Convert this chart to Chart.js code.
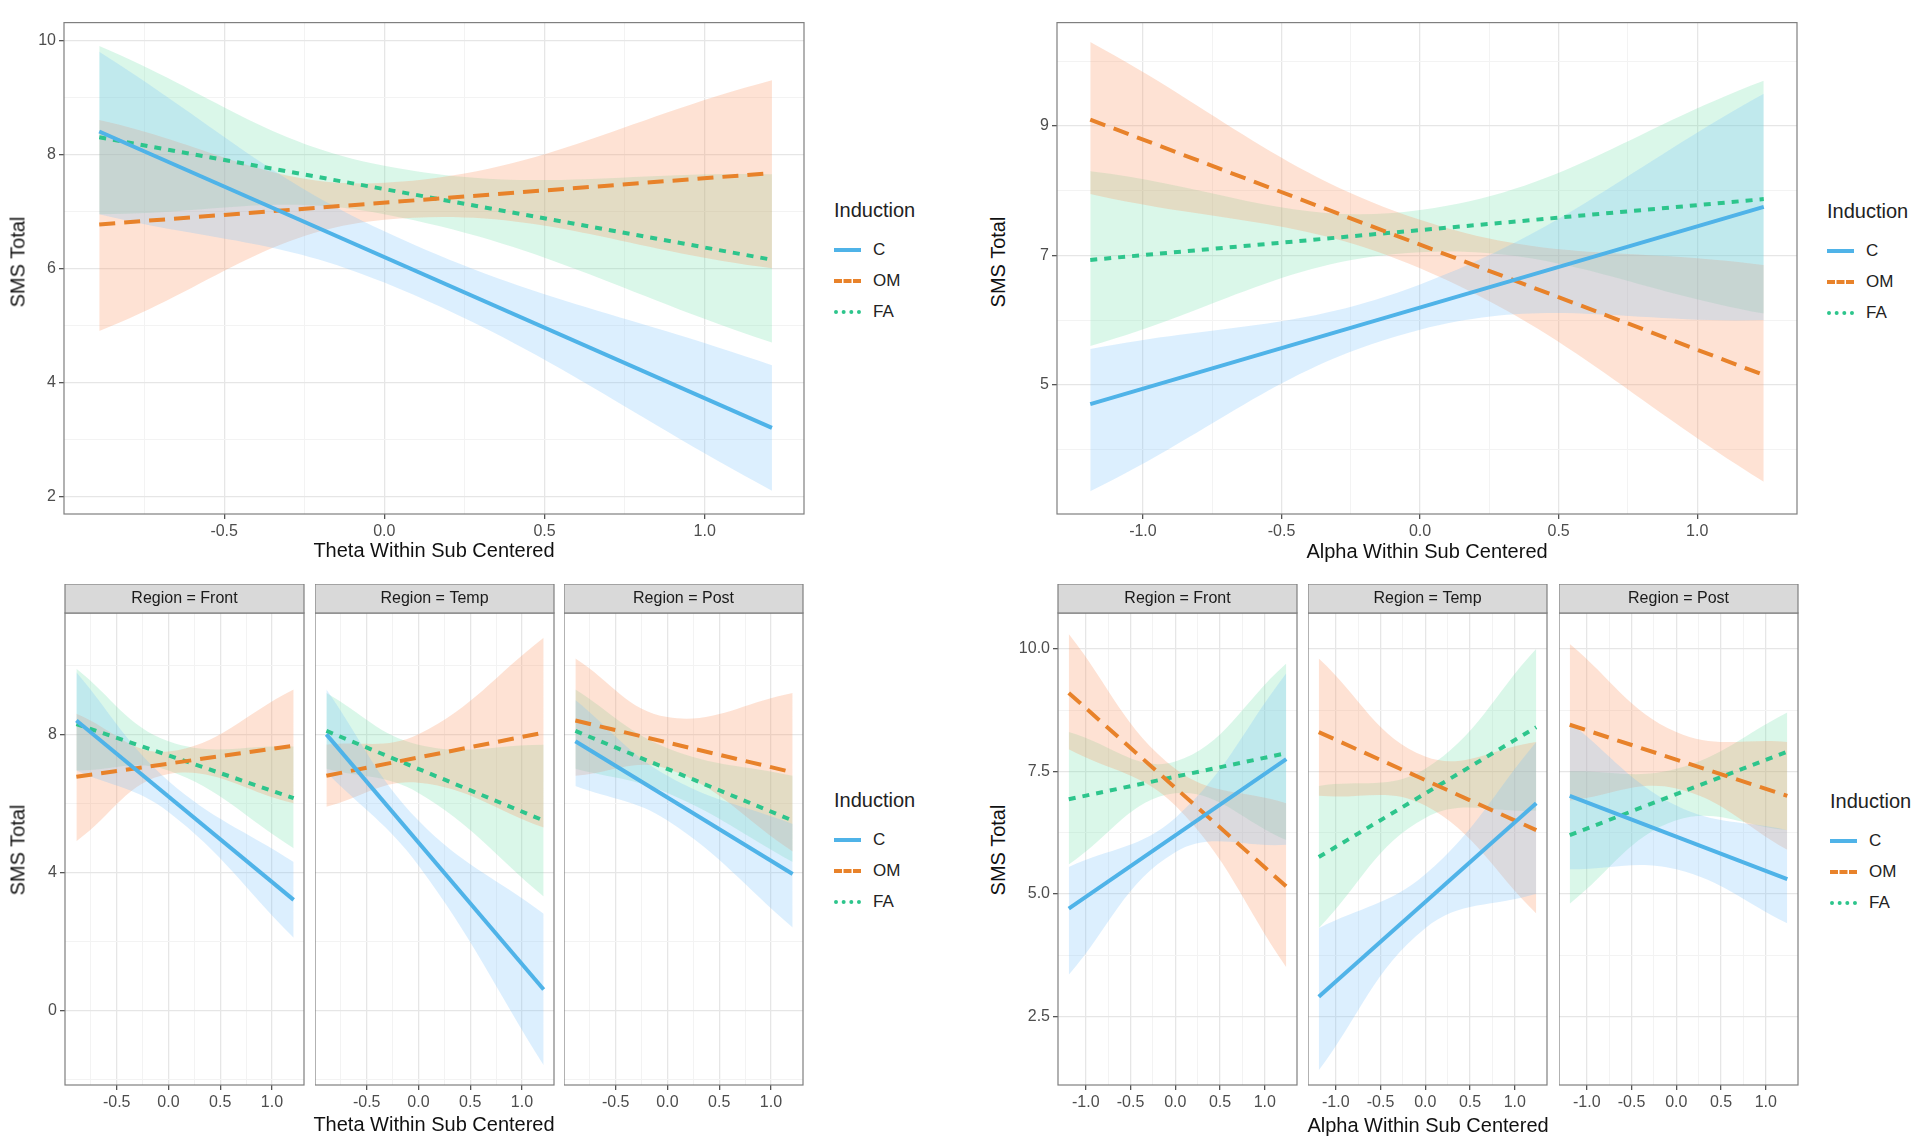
<!DOCTYPE html>
<html lang="en">
<head>
<meta charset="UTF-8">
<title>SMS Total by Theta / Alpha</title>
<script src="https://cdn.jsdelivr.net/npm/chart.js"></script>
<style>
  body { margin: 0; width: 1920px; height: 1140px; background: #fff; position: relative; overflow: hidden; font-family: "Liberation Sans", Arial, sans-serif; }
  canvas { position: absolute; }
  .xt { position: absolute; font-size: 20px; color: #111; transform: translate(-50%, -50%); white-space: nowrap; }
  .yt { position: absolute; font-size: 20px; color: #111; transform: translate(-50%, -50%) rotate(-90deg); white-space: nowrap; }
  .leg { position: absolute; font-size: 17px; color: #222; }
  .leg .ttl { font-size: 20px; margin-bottom: 12px; }
  .leg .it { height: 31px; display: flex; align-items: center; }
  .leg .sw { width: 27px; margin-right: 12px; border-top-width: 4px; }
</style>
</head>
<body>
<script>
// ---- data ----
const thetaX = [-0.89, 1.21];
const thetaBandX = [-0.89, 0, 1.21];
const alphaX = [-1.19, 1.24];
const alphaBandX = [-1.19, 0, 1.24];

// Theta, Front (also top-left panel)
const thFrontC = [8.4, 3.2],   thFrontCLo = [6.95, 5.75, 2.1], thFrontCHi = [9.8, 6.65, 4.3];
const thFrontOM = [6.77, 7.67], thFrontOMLo = [4.9, 6.85, 6.0], thFrontOMHi = [8.6, 7.5, 9.3];
const thFrontFA = [8.3, 6.15], thFrontFALo = [6.95, 6.95, 4.7], thFrontFAHi = [9.9, 7.8, 7.65];
// Theta, Temp
const thTempC = [8.0, 0.6],    thTempCLo = [6.9, 4.2, -1.6],   thTempCHi = [9.3, 5.5, 2.8];
const thTempOM = [6.8, 8.05],  thTempOMLo = [5.9, 6.6, 5.3],   thTempOMHi = [7.7, 8.0, 10.8];
const thTempFA = [8.1, 5.5],   thTempFALo = [7.0, 6.3, 3.3],   thTempFAHi = [9.2, 7.7, 7.7];
// Theta, Post
const thPostC = [7.8, 3.95],   thPostCLo = [6.5, 5.5, 2.4],    thPostCHi = [9.0, 6.8, 5.4];
const thPostOM = [8.4, 6.9],   thPostOMLo = [6.8, 7.0, 4.6],   thPostOMHi = [10.2, 8.5, 9.2];
const thPostFA = [8.1, 5.5],   thPostFALo = [7.0, 6.3, 4.3],   thPostFAHi = [9.3, 7.6, 6.8];

// Alpha, Front (also top-right panel)
const alFrontC = [4.7, 7.75],  alFrontCLo = [3.35, 5.85, 6.0], alFrontCHi = [5.55, 6.55, 9.5];
const alFrontOM = [9.1, 5.15], alFrontOMLo = [7.95, 6.8, 3.5], alFrontOMHi = [10.3, 7.55, 6.85];
const alFrontFA = [6.93, 7.87], alFrontFALo = [5.6, 7.05, 6.1], alFrontFAHi = [8.3, 7.7, 9.7];
// Alpha, Temp
const alTempC = [2.9, 6.85],   alTempCLo = [1.4, 4.3, 5.0],    alTempCHi = [4.3, 5.4, 8.1];
const alTempOM = [8.3, 6.3],   alTempOMLo = [7.0, 6.8, 4.6],   alTempOMHi = [9.8, 7.8, 8.1];
const alTempFA = [5.75, 8.4],  alTempFALo = [4.3, 6.55, 6.7],  alTempFAHi = [7.2, 7.55, 10.0];
// Alpha, Post
const alPostC = [7.0, 5.3],    alPostCLo = [5.5, 5.5, 4.4],    alPostCHi = [8.5, 6.8, 6.3];
const alPostOM = [8.45, 7.0],  alPostOMLo = [6.9, 7.15, 5.9],  alPostOMHi = [10.1, 8.3, 8.1];
const alPostFA = [6.2, 7.9],   alPostFALo = [4.8, 6.5, 6.3],   alPostFAHi = [7.5, 7.55, 8.7];

const inductions = ['C', 'OM', 'FA'];
const thetaTicksMaj = [-0.5, 0, 0.5, 1.0], thetaTicksMin = [-0.75, -0.25, 0.25, 0.75];
const alphaTicksMaj = [-1.0, -0.5, 0, 0.5, 1.0], alphaTicksMin = [-0.75, -0.25, 0.25, 0.75];

// ---- style ----
const lineColor = { C: '#4FB3E8', OM: '#E8822A', FA: '#2DC58C' };
const bandColor = { C: 'rgba(120,195,250,0.26)', OM: 'rgba(250,150,100,0.28)', FA: 'rgba(100,220,165,0.24)' };
const dash = { C: [], OM: [16, 9], FA: [7, 7] };
const FONT = 'Liberation Sans';

const frame = {
  id: 'frame',
  afterDraw(chart, args, o) {
    const { ctx, chartArea: a } = chart;
    ctx.save();
    ctx.strokeStyle = '#7f7f7f';
    ctx.lineWidth = 1.2;
    ctx.strokeRect(a.left, a.top, a.right - a.left, a.bottom - a.top);
    if (o.strip) {
      ctx.fillStyle = '#d9d9d9';
      ctx.fillRect(a.left, a.top - 29, a.right - a.left, 29);
      ctx.strokeRect(a.left, a.top - 29, a.right - a.left, 29);
      ctx.fillStyle = '#1a1a1a';
      ctx.font = '16px ' + FONT;
      ctx.textAlign = 'center';
      ctx.textBaseline = 'middle';
      ctx.fillText(o.strip, (a.left + a.right) / 2, a.top - 14);
    }
    ctx.restore();
  }
};

function tickScale(maj, min, fmt) {
  const majSet = new Set(maj);
  return {
    afterBuildTicks: s => {
      s.ticks = maj.concat(min).sort((a, b) => a - b).map(v => ({ value: v, isMaj: majSet.has(v) }));
    },
    ticks: { autoSkip: false, maxRotation: 0, color: '#4d4d4d', font: { family: FONT, size: 16 },
      callback: (v) => majSet.has(v) ? fmt(v) : '' },
    grid: {
      color: c => (c.tick && c.tick.isMaj) ? '#e6e6e6' : '#f3f3f3',
      tickColor: c => (c.tick && c.tick.isMaj) ? '#555' : 'rgba(0,0,0,0)',
      tickLength: 5, lineWidth: c => (c.tick && c.tick.isMaj) ? 1.3 : 1
    },
    border: { display: false }
  };
}

function panel(p) {
  const yw = p.yw, xh = 34, st = p.strip ? 29 : 0, padR = 6;
  const cv = document.createElement('canvas');
  const w = yw + p.w + padR, h = st + p.h + xh;
  cv.width = w; cv.height = h;
  cv.style.left = (p.left - yw) + 'px';
  cv.style.top = (p.top - st) + 'px';
  cv.style.width = w + 'px'; cv.style.height = h + 'px';
  document.body.appendChild(cv);

  const ds = [];
  inductions.forEach((k, i) => {
    const b = p.bands[i];
    const lo = ds.length;
    ds.push({ data: p.bx.map((x, j) => ({ x, y: b[0][j] })), borderWidth: 0, pointRadius: 0, tension: 0.4, fill: false, order: 2 });
    ds.push({ data: p.bx.map((x, j) => ({ x, y: b[1][j] })), borderWidth: 0, pointRadius: 0, tension: 0.4,
      fill: { target: lo }, backgroundColor: bandColor[k], order: 2 });
  });
  inductions.forEach((k, i) => {
    ds.push({ data: p.lx.map((x, j) => ({ x, y: p.lines[i][j] })), borderColor: lineColor[k], borderWidth: 4,
      borderDash: dash[k], pointRadius: 0, fill: false, order: 0 });
  });

  const xs = tickScale(p.xmaj, p.xmin, v => v.toFixed(1));
  const ys = tickScale(p.ymaj, p.ymin, p.yfmt);
  xs.type = 'linear'; xs.min = p.xr[0]; xs.max = p.xr[1];
  xs.afterFit = s => { s.height = xh; };
  ys.min = p.yr[0]; ys.max = p.yr[1];
  ys.afterFit = s => { s.width = yw; };
  if (!yw) { ys.ticks.display = false; ys.grid.tickLength = 0; }

  new Chart(cv, {
    type: 'line',
    data: { datasets: ds },
    options: {
      responsive: false, animation: false,
      layout: { padding: { top: st, right: padR, left: 0, bottom: 0 } },
      plugins: { legend: { display: false }, tooltip: { enabled: false }, frame: { strip: p.strip } },
      scales: { x: xs, y: ys }
    },
    plugins: [frame]
  });
}
</script>
<script>
const thetaCommon = { lx: thetaX, bx: thetaBandX, xr: [-1.0, 1.31], xmaj: thetaTicksMaj, xmin: thetaTicksMin };
const alphaCommon = { lx: alphaX, bx: alphaBandX, xr: [-1.31, 1.36], xmaj: alphaTicksMaj, xmin: alphaTicksMin };

const thFront = { lines: [thFrontC, thFrontOM, thFrontFA], bands: [[thFrontCLo, thFrontCHi], [thFrontOMLo, thFrontOMHi], [thFrontFALo, thFrontFAHi]] };
const thTemp = { lines: [thTempC, thTempOM, thTempFA], bands: [[thTempCLo, thTempCHi], [thTempOMLo, thTempOMHi], [thTempFALo, thTempFAHi]] };
const thPost = { lines: [thPostC, thPostOM, thPostFA], bands: [[thPostCLo, thPostCHi], [thPostOMLo, thPostOMHi], [thPostFALo, thPostFAHi]] };
const alFront = { lines: [alFrontC, alFrontOM, alFrontFA], bands: [[alFrontCLo, alFrontCHi], [alFrontOMLo, alFrontOMHi], [alFrontFALo, alFrontFAHi]] };
const alTemp = { lines: [alTempC, alTempOM, alTempFA], bands: [[alTempCLo, alTempCHi], [alTempOMLo, alTempOMHi], [alTempFALo, alTempFAHi]] };
const alPost = { lines: [alPostC, alPostOM, alPostFA], bands: [[alPostCLo, alPostCHi], [alPostOMLo, alPostOMHi], [alPostFALo, alPostFAHi]] };

// top-left
panel(Object.assign({}, thetaCommon, thFront, { left: 64, top: 10, w: 740, h: 504, yw: 40,
  yr: [1.69, 10.31], ymaj: [2, 4, 6, 8, 10], ymin: [3, 5, 7, 9], yfmt: v => String(v) }));
// top-right
panel(Object.assign({}, alphaCommon, alFront, { left: 1057, top: 10, w: 740, h: 504, yw: 40,
  yr: [3.0, 10.6], ymaj: [5, 7, 9], ymin: [4, 6, 8, 10], yfmt: v => String(v) }));

// bottom-left facets
const thFacets = [['Front', thFront], ['Temp', thTemp], ['Post', thPost]];
[65, 315, 564].forEach((left, i) => {
  const f = thFacets[i];
  panel(Object.assign({}, thetaCommon, f[1], { left, top: 613, w: 239, h: 472, yw: i === 0 ? 40 : 0, strip: 'Region = ' + f[0],
    yr: [-2.17, 11.52], ymaj: [0, 4, 8], ymin: [-2, 2, 6, 10], yfmt: v => String(v) }));
});
// bottom-right facets
const alFacets = [['Front', alFront], ['Temp', alTemp], ['Post', alPost]];
[1058, 1308, 1559].forEach((left, i) => {
  const f = alFacets[i];
  panel(Object.assign({}, alphaCommon, f[1], { left, top: 613, w: 239, h: 472, yw: i === 0 ? 44 : 0, strip: 'Region = ' + f[0],
    yr: [1.1, 10.73], ymaj: [2.5, 5, 7.5, 10], ymin: [3.75, 6.25, 8.75], yfmt: v => v.toFixed(1) }));
});

// titles and legends
function txt(cls, x, y, s) { const d = document.createElement('div'); d.className = cls; d.style.left = x + 'px'; d.style.top = y + 'px'; d.textContent = s; document.body.appendChild(d); }
txt('xt', 434, 550, 'Theta Within Sub Centered');
txt('xt', 1427, 551, 'Alpha Within Sub Centered');
txt('xt', 434, 1124, 'Theta Within Sub Centered');
txt('xt', 1428, 1125, 'Alpha Within Sub Centered');
txt('yt', 18, 262, 'SMS Total');
txt('yt', 998, 262, 'SMS Total');
txt('yt', 18, 850, 'SMS Total');
txt('yt', 998, 850, 'SMS Total');

function legend(x, y) {
  const d = document.createElement('div');
  d.className = 'leg'; d.style.left = x + 'px'; d.style.top = y + 'px';
  let h = '<div class="ttl">Induction</div>';
  const styles = { C: 'solid', OM: 'dashed', FA: 'dotted' };
  inductions.forEach(k => { h += `<div class="it"><span class="sw" style="border-top-style:${styles[k]};border-top-color:${lineColor[k]}"></span>${k}</div>`; });
  d.innerHTML = h; document.body.appendChild(d);
}
legend(834, 199);
legend(1827, 200);
legend(834, 789);
legend(1830, 790);
</script>
</body>
</html>
